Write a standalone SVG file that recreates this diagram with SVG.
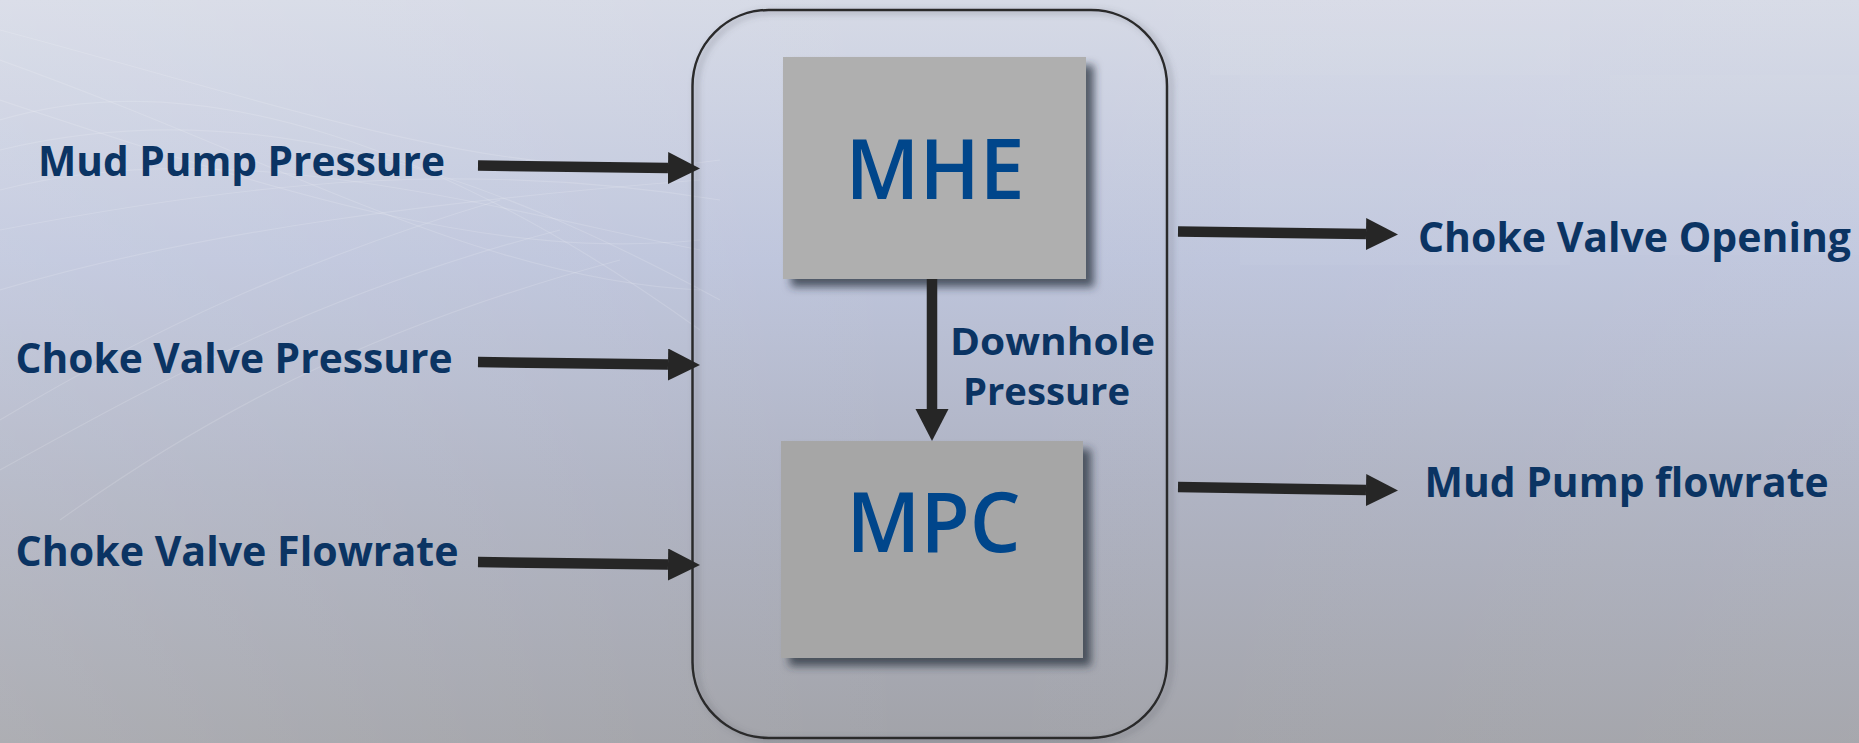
<svg xmlns="http://www.w3.org/2000/svg" width="1859" height="743" viewBox="0 0 1859 743">
<defs>
<linearGradient id="bg" x1="0" y1="0" x2="0" y2="1">
<stop offset="0" stop-color="#d6dae6"/>
<stop offset="0.35" stop-color="#bec5dc"/>
<stop offset="0.65" stop-color="#afb3c3"/>
<stop offset="1" stop-color="#a2a3a9"/>
</linearGradient>
<linearGradient id="bgx" x1="0" y1="0" x2="1" y2="0">
<stop offset="0" stop-color="#ffffff" stop-opacity="0.12"/>
<stop offset="0.5" stop-color="#ffffff" stop-opacity="0"/>
<stop offset="1" stop-color="#ffffff" stop-opacity="0.05"/>
</linearGradient>
<filter id="boxShadow" x="-10%" y="-10%" width="125%" height="125%">
<feDropShadow dx="8" dy="8" stdDeviation="4" flood-color="#2b303c" flood-opacity="0.75"/>
</filter>
<filter id="frameShadow" x="-5%" y="-5%" width="112%" height="110%">
<feDropShadow dx="4" dy="2" stdDeviation="3" flood-color="#50535c" flood-opacity="0.5"/>
</filter>
<marker id="head" markerUnits="userSpaceOnUse" markerWidth="34" markerHeight="34" refX="0" refY="16" orient="auto">
<path d="M0,0 L32,16 L0,32 Z" fill="#262626"/>
</marker>
<marker id="headV" markerUnits="userSpaceOnUse" markerWidth="34" markerHeight="34" refX="0" refY="16.5" orient="auto">
<path d="M0,0 L32,16.5 L0,33 Z" fill="#262626"/>
</marker>
<style>
.lbl{font-family:"Open Sans","Liberation Sans",sans-serif;font-weight:700;font-size:41px;fill:#0b3463}
.sub{font-family:"Open Sans","Liberation Sans",sans-serif;font-weight:700;font-size:37px;fill:#0b3463}
.big{font-family:"Open Sans","Liberation Sans",sans-serif;font-weight:600;font-size:84px;fill:#00468b}
.arr{stroke:#262626;stroke-width:10.5;fill:none;marker-end:url(#head)}
.swoosh{fill:none;stroke:#ffffff;stroke-opacity:0.15;stroke-width:1.2}
</style>
</defs>
<rect x="0" y="0" width="1859" height="743" fill="url(#bg)"/>
<rect x="0" y="0" width="1859" height="743" fill="url(#bgx)"/>
<g id="background-texture">
<path class="swoosh" d="M0,120 C200,60 450,150 700,330"/>
<path class="swoosh" d="M0,150 C250,90 480,170 720,300"/>
<path class="swoosh" d="M0,190 C230,130 500,210 700,250"/>
<path class="swoosh" d="M0,230 C260,180 470,160 720,200"/>
<path class="swoosh" d="M0,290 C200,230 450,200 700,180"/>
<path class="swoosh" d="M0,100 C300,200 500,260 700,240"/>
<path class="swoosh" d="M0,60 C280,160 480,280 700,290"/>
<path class="swoosh" d="M0,420 C150,330 300,260 500,200"/>
<path class="swoosh" d="M0,470 C180,370 330,290 560,230"/>
<path class="swoosh" d="M60,520 C200,420 360,330 620,260"/>
<path class="swoosh" d="M0,30 C300,110 520,190 720,160"/>
<rect x="1210" y="0" width="360" height="75" fill="#ffffff" fill-opacity="0.05"/>
<rect x="1240" y="75" width="330" height="190" fill="#ffffff" fill-opacity="0.04"/>
<rect x="1610" y="75" width="249" height="180" fill="#ffffff" fill-opacity="0.03"/>
</g>
<g id="controller">
<rect x="692.5" y="10" width="474.5" height="728" rx="76" ry="76" fill="none" stroke="#2a2a2c" stroke-width="2.5" filter="url(#frameShadow)"/>
</g>
<g id="mhe">
<rect x="783" y="57" width="303" height="222" fill="#afafaf" filter="url(#boxShadow)"/>
<text class="big" x="845.5" y="199" textLength="179" lengthAdjust="spacingAndGlyphs">MHE</text>
</g>
<g id="mpc">
<rect x="781" y="441" width="302" height="217" fill="#a6a6a6" filter="url(#boxShadow)"/>
<text class="big" x="846.5" y="552" textLength="174" lengthAdjust="spacingAndGlyphs">MPC</text>
</g>
<g id="input-mud-pump-pressure">
<text class="lbl" x="38" y="176" textLength="407" lengthAdjust="spacingAndGlyphs">Mud Pump Pressure</text>
</g>
<g id="input-choke-valve-pressure">
<text class="lbl" x="15.5" y="373" textLength="437" lengthAdjust="spacingAndGlyphs">Choke Valve Pressure</text>
</g>
<g id="input-choke-valve-flowrate">
<text class="lbl" x="15.5" y="566" textLength="443" lengthAdjust="spacingAndGlyphs">Choke Valve Flowrate</text>
</g>
<g id="output-choke-valve-opening">
<text class="lbl" x="1418" y="252" textLength="433" lengthAdjust="spacingAndGlyphs">Choke Valve Opening</text>
</g>
<g id="output-mud-pump-flowrate">
<text class="lbl" x="1424.5" y="496.5" textLength="404" lengthAdjust="spacingAndGlyphs">Mud Pump flowrate</text>
</g>
<g id="connectors">
<line class="arr" x1="478" y1="165.5" x2="668" y2="168"/>
<line class="arr" x1="478" y1="362" x2="668" y2="364.5"/>
<line class="arr" x1="478" y1="562" x2="668" y2="564.5"/>
<line class="arr" x1="1178" y1="231.5" x2="1366" y2="234"/>
<line class="arr" x1="1178" y1="487" x2="1366" y2="490"/>
<line x1="932" y1="279" x2="932" y2="409" stroke="#262626" stroke-width="10.5" marker-end="url(#headV)"/>
<text class="sub" x="950" y="355" textLength="205" lengthAdjust="spacingAndGlyphs">Downhole</text>
<text class="sub" x="963" y="405" textLength="167" lengthAdjust="spacingAndGlyphs">Pressure</text>
</g>
</svg>
